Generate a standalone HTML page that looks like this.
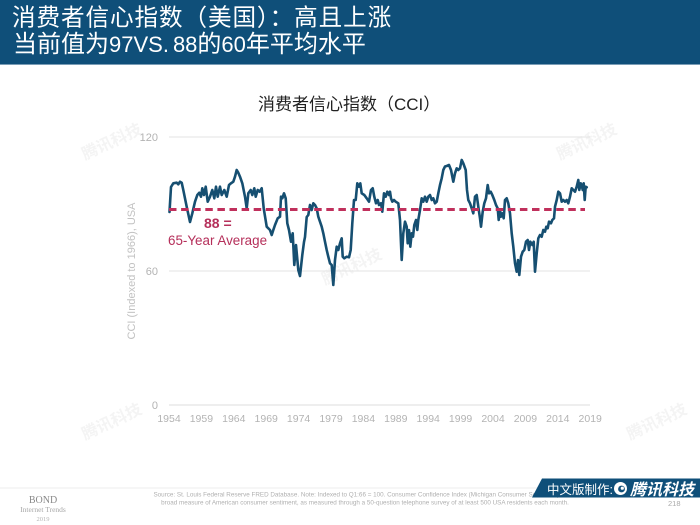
<!DOCTYPE html>
<html>
<head>
<meta charset="utf-8">
<style>
html,body{margin:0;padding:0;background:#fff;}
body{width:700px;height:525px;overflow:hidden;position:relative;}
svg{position:absolute;left:0;top:0;}
</style>
</head>
<body>
<svg width="700" height="525" viewBox="0 0 700 525" xmlns="http://www.w3.org/2000/svg">
  <!-- header -->
  <rect x="0" y="0" width="700" height="65" fill="#0f4f79"/>
  <line x1="0" y1="64.5" x2="700" y2="64.5" stroke="#7a9db6" stroke-width="1"/>
  <text x="12" y="25.5" font-family="'Noto Sans CJK SC','Liberation Sans',sans-serif" font-size="23.6" letter-spacing="0.9" fill="#ffffff">消费者信心指数（美国）：高且上涨</text>
  <text x="13" y="52" font-family="'Liberation Sans','Noto Sans CJK SC',sans-serif" font-size="24" fill="#ffffff">当前值为<tspan font-size="22">97VS.</tspan><tspan font-size="22" dx="4">88</tspan>的<tspan font-size="22">60</tspan>年平均水平</text>

  <!-- faint watermarks -->
  <g font-family="'Liberation Sans','Noto Sans CJK SC',sans-serif" font-size="16" font-weight="bold" fill="#f4f4f4">
    <text x="85" y="160" transform="rotate(-25 85 160)">腾讯科技</text>
    <text x="560" y="160" transform="rotate(-25 560 160)">腾讯科技</text>
    <text x="325" y="285" transform="rotate(-25 325 285)">腾讯科技</text>
    <text x="85" y="440" transform="rotate(-25 85 440)">腾讯科技</text>
    <text x="630" y="440" transform="rotate(-25 630 440)">腾讯科技</text>
  </g>

  <!-- chart title -->
  <text x="258" y="110" font-family="'Liberation Sans','Noto Sans CJK SC',sans-serif" font-size="17" fill="#222">消费者信心指数（CCI）</text>

  <!-- gridlines -->
  <line x1="169" y1="137" x2="590" y2="137" stroke="#e3e3e3" stroke-width="1"/>
  <line x1="169" y1="271" x2="590" y2="271" stroke="#e3e3e3" stroke-width="1"/>
  <line x1="169" y1="405" x2="590" y2="405" stroke="#dcdcdc" stroke-width="1"/>

  <!-- y ticks -->
  <g font-family="'Liberation Sans',sans-serif" font-size="11" fill="#b3b3b3" text-anchor="end">
    <text x="158" y="141">120</text>
    <text x="158" y="275">60</text>
    <text x="158" y="409">0</text>
  </g>
  <!-- y axis label -->
  <text x="0" y="0" transform="translate(135 271) rotate(-90)" text-anchor="middle" font-family="'Liberation Sans',sans-serif" font-size="11" fill="#c2c2c2">CCI (Indexed to 1966), USA</text>

  <!-- x ticks -->
  <g font-family="'Liberation Sans',sans-serif" font-size="10.5" fill="#b3b3b3" text-anchor="middle">
    <text x="169" y="422">1954</text>
    <text x="201.4" y="422">1959</text>
    <text x="233.8" y="422">1964</text>
    <text x="266.2" y="422">1969</text>
    <text x="298.6" y="422">1974</text>
    <text x="331" y="422">1979</text>
    <text x="363.4" y="422">1984</text>
    <text x="395.8" y="422">1989</text>
    <text x="428.2" y="422">1994</text>
    <text x="460.6" y="422">1999</text>
    <text x="493" y="422">2004</text>
    <text x="525.4" y="422">2009</text>
    <text x="557.8" y="422">2014</text>
    <text x="590.2" y="422">2019</text>
  </g>

  <!-- series -->
  <polyline fill="none" stroke="#164f71" stroke-width="2.6" stroke-linejoin="round" stroke-linecap="round" points="
169.5,212 171,187 173.3,183.3 176.7,182.7 178.3,184.3 180,181.7 181.7,182.7 183.3,190 186.7,206.7 190,222 192.3,213.3 195,201.7 197.3,195 199.3,192.7 201,196.7 202.3,188.3 204,195 205.7,186.7 207.7,201.7 210,196.7 212.3,190 214.3,198.3 216,186.7 217.7,196.7 220,186.7 221.7,195 224.3,190 226.7,196.7 229,185 231,183.3 233.3,181.7 235,176.7 236.7,170 238.3,172.7 240,176.7 242.3,183.3 245,196.7 246.7,208.3 248.3,193.3 250.7,190 252.3,195 254.3,188.3 255.7,196.7 257.7,190 259.7,191.7 261.7,188.3 263.7,208.3 266.7,226.7 270,230 271.7,235 273.3,230 275,225 277.7,218.3 280,216.7 281,196.7 282.3,198.3 284,193.3 285.7,198.3 287.3,223.3 289,230 291,241.7 292.7,233.3 294.3,265 296,245 298.3,270 300,276 302.3,255 304,242 305,237 306.7,217 308.3,215 310,205 311.7,210 313.3,203.3 315,205 316.7,208.3 318.3,216.7 320,221.7 321.7,226.7 323.3,233.3 325,241.7 326.7,250 328.3,256.7 330,263.3 331.7,265 333.3,285 335,260 336.7,246.7 338.3,250 340,243.3 341.7,238.3 342.7,256.7 344.3,258.3 346.7,256.7 349,257.3 350.7,250 352.3,223.3 354,200 355.7,200 357.3,183.3 359,186.7 360.3,183.3 361.7,193.3 364.3,195 366.7,198.3 369,201.7 371,190 372.7,188.3 374.3,196.7 376,203.3 377.7,200 379,205 381,203.3 382.3,211.7 384,193.3 385.7,196.7 387.3,191.7 389,195 390,191.7 391,198.3 392.3,201.7 394,200 395.7,201.7 398.3,203.3 400,220 401.7,260 403.3,233.3 405,221.7 406.7,226.7 407.7,243.3 409,230 410.3,246.7 411.7,233.3 413,236.7 414.3,225 416,220 417.3,230 418.3,220 420,210 421.7,198.3 423.3,201.7 425,196.7 426.7,201.7 428.3,196.7 430,195 431.7,200 433.3,198.3 435,203.3 436.7,201.7 438.3,193.3 440,185 441.7,178.3 443.3,170 445,166.5 446.7,166 449,165 451,170 453.3,181.7 455,173.3 456.7,168.3 458.3,170 460,168.3 461.7,160 463.3,163.3 465.7,170 467,190 468.3,200 470,203.3 471.7,208.3 473.3,213.3 475,196.7 476.7,195 478.3,206.7 480,218.3 481,226.7 482.7,211.7 484.3,203.3 486,198.3 487.7,185 489,193.3 490.7,191.7 492.3,195 494.3,200 496,205 497.7,208.3 498.7,220 500,210 501,216.7 502.3,213.3 503.7,218.3 505,200 506.7,198.3 508.3,203.3 510,213.3 511.7,233.3 513.3,246.7 515,263.3 516.7,271.7 518,260 519.3,275 521,256.7 522.7,251.7 524.3,250 526,241.7 527.7,240 529,250 530.3,241.7 532.3,245 533.7,241.7 535,271.7 536.7,253.3 538.3,238.3 540,235 541.7,236.7 543.3,230 545,231.7 546.3,226.7 547.7,228.3 549,221.7 551,223.3 552.3,220 554,218.3 555,206.7 556.7,200 558.3,191.7 560,193.3 561.7,201.7 563.3,200 565,201.7 566.7,200 568.3,203.3 570,196.7 571.7,188.3 573.3,190 575,191.7 576.7,186.7 578.3,180 579.3,190 580.7,183.3 581.7,185 582.7,190 583.7,183.3 584.7,200 585.7,186.7 586.7,187.3"/>

  <!-- average dashed line -->
  <line x1="169" y1="209.5" x2="585" y2="209.5" stroke="#c0305c" stroke-width="3" stroke-dasharray="7.5,4.6"/>
  <text x="204" y="228" font-family="'Liberation Sans',sans-serif" font-size="14" font-weight="bold" fill="#b52f5a">88 =</text>
  <text x="168" y="245" font-family="'Liberation Sans',sans-serif" font-size="13.4" fill="#b52f5a">65-Year Average</text>

  <!-- footer -->
  <line x1="0" y1="488" x2="700" y2="488" stroke="#ececec" stroke-width="1"/>
  <text x="43" y="503" text-anchor="middle" font-family="'Liberation Serif',serif" font-size="10" fill="#8a8a8a">BOND</text>
  <text x="43" y="512" text-anchor="middle" font-family="'Liberation Serif',serif" font-size="7.5" fill="#a8a8a8">Internet Trends</text>
  <text x="43" y="521" text-anchor="middle" font-family="'Liberation Serif',serif" font-size="6.5" fill="#b5b5b5">2019</text>
  <g font-family="'Liberation Sans',sans-serif" font-size="6.3" fill="#b0b0b0" text-anchor="middle">
    <text x="362" y="496.5">Source: St. Louis Federal Reserve FRED Database.  Note: Indexed to Q1:66 = 100. Consumer Confidence Index (Michigan Consumer Sentiment) is a</text>
    <text x="365" y="504.5">broad measure of American consumer sentiment, as measured through a 50-question telephone survey of at least 500 USA residents each month.</text>
  </g>
  <text x="668" y="506" font-family="'Liberation Sans',sans-serif" font-size="7.5" fill="#aaaaaa">218</text>

  <!-- banner -->
  <polygon points="542,478.5 700,478.5 700,497.5 532,497.5" fill="#0f4f79"/>
  <text x="547" y="494" font-family="'Liberation Sans','Noto Sans CJK SC',sans-serif" font-size="12.5" fill="#ffffff">中文版制作:</text>
  <circle cx="620.5" cy="488.5" r="6.5" fill="#ffffff"/>
  <circle cx="621.5" cy="489" r="3.4" fill="#0f4f79"/>
  <circle cx="622.3" cy="488.2" r="1.6" fill="#ffffff"/>
  <text x="630" y="495" font-family="'Liberation Sans','Noto Sans CJK SC',sans-serif" font-size="16" font-weight="bold" font-style="italic" fill="#ffffff">腾讯科技</text>
</svg>
</body>
</html>
